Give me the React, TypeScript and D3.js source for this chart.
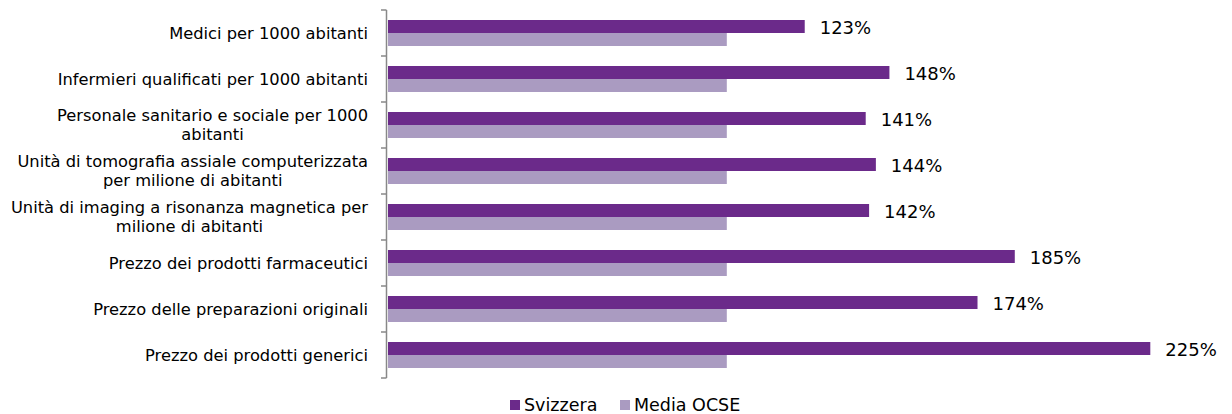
import React, { useEffect, useRef } from 'react'
import * as d3 from 'd3'

const categories = [
  'Medici per 1000 abitanti',
  'Infermieri qualificati per 1000 abitanti',
  'Personale sanitario e sociale per 1000\nabitanti',
  'Unità di tomografia assiale computerizzata\nper milione di abitanti',
  'Unità di imaging a risonanza magnetica per\nmilione di abitanti',
  'Prezzo dei prodotti farmaceutici',
  'Prezzo delle preparazioni originali',
  'Prezzo dei prodotti generici',
]
const svizzera = [123, 148, 141, 144, 142, 185, 174, 225]
const mediaOcse = [100, 100, 100, 100, 100, 100, 100, 100]
const seriesNames = ['Svizzera', 'Media OCSE']
const colors = ['#6B2A8A', '#AA9BC1']

const width = 1232
const height = 414
const margin = { top: 10, right: -3, bottom: 36, left: 388 }
const font = '"DejaVu Sans", Verdana, sans-serif'

export default function App() {
  const node = useRef<SVGSVGElement>(null)

  useEffect(() => {
    const svg = d3.select(node.current)
    svg.selectAll('*').remove()

    const y = d3.scaleBand()
      .domain(d3.range(categories.length).map(String))
      .range([margin.top, height - margin.bottom])

    const x = d3.scaleLinear()
      .domain([0, 250])
      .range([margin.left, width - margin.right])

    const barH = 13
    const pad = (y.bandwidth() - 2 * barH) / 2

    const groups = svg.append('g')
      .selectAll('g')
      .data(categories)
      .join('g')
      .attr('transform', (d, i) => `translate(0,${y(String(i))})`)

    groups.append('rect')
      .attr('x', x(0))
      .attr('y', pad)
      .attr('height', barH)
      .attr('width', (d, i) => x(svizzera[i]) - x(0))
      .attr('fill', colors[0])

    groups.append('rect')
      .attr('x', x(0))
      .attr('y', pad + barH)
      .attr('height', barH)
      .attr('width', (d, i) => x(mediaOcse[i]) - x(0))
      .attr('fill', colors[1])

    groups.append('text')
      .attr('x', (d, i) => x(svizzera[i]) + 15)
      .attr('y', pad + barH / 2 + 1.5)
      .attr('dy', '0.35em')
      .attr('font-family', font)
      .attr('font-size', 18)
      .attr('fill', '#000')
      .text((d, i) => `${svizzera[i]}%`)

    // category labels, lines centred, block right-aligned
    const labelRight = margin.left - 20
    groups.each(function (d) {
      const g = d3.select(this)
      const lines = d.split('\n')
      const texts = lines.map((line, k) => g.append('text')
        .attr('font-family', font)
        .attr('font-size', 16.3)
        .attr('fill', '#000')
        .attr('text-anchor', 'middle')
        .attr('y', y.bandwidth() / 2 + (k - (lines.length - 1) / 2) * 19)
        .attr('dy', '0.35em')
        .text(line))
      const maxW = d3.max(texts, t => (t.node() as SVGTextElement).getComputedTextLength()) || 0
      texts.forEach(t => t.attr('x', labelRight - maxW / 2))
    })

    // axis
    const ax = x(0) - 1.5
    const axis = svg.append('g')
    axis.append('line')
      .attr('x1', ax).attr('x2', ax)
      .attr('y1', margin.top).attr('y2', height - margin.bottom)
      .attr('stroke', '#888').attr('stroke-width', 1.5)
    axis.selectAll('line.tick')
      .data(d3.range(categories.length + 1))
      .join('line')
      .attr('class', 'tick')
      .attr('x1', ax - 5.5).attr('x2', ax)
      .attr('y1', i => margin.top + i * y.step())
      .attr('y2', i => margin.top + i * y.step())
      .attr('stroke', '#888').attr('stroke-width', 1.5)

    // legend
    const legend = svg.append('g')
    const lx = [510, 620]
    seriesNames.forEach((name, i) => {
      legend.append('rect')
        .attr('x', lx[i]).attr('y', 400)
        .attr('width', 10).attr('height', 10)
        .attr('fill', colors[i])
      legend.append('text')
        .attr('x', lx[i] + 14).attr('y', 405)
        .attr('dy', '0.35em')
        .attr('font-family', font)
        .attr('font-size', 17.5)
        .attr('fill', '#000')
        .text(name)
    })
  }, [])

  return (
    <svg ref={node} width={width} height={height}
      style={{ position: 'absolute', left: 0, top: 0, background: '#fff' }} />
  )
}
